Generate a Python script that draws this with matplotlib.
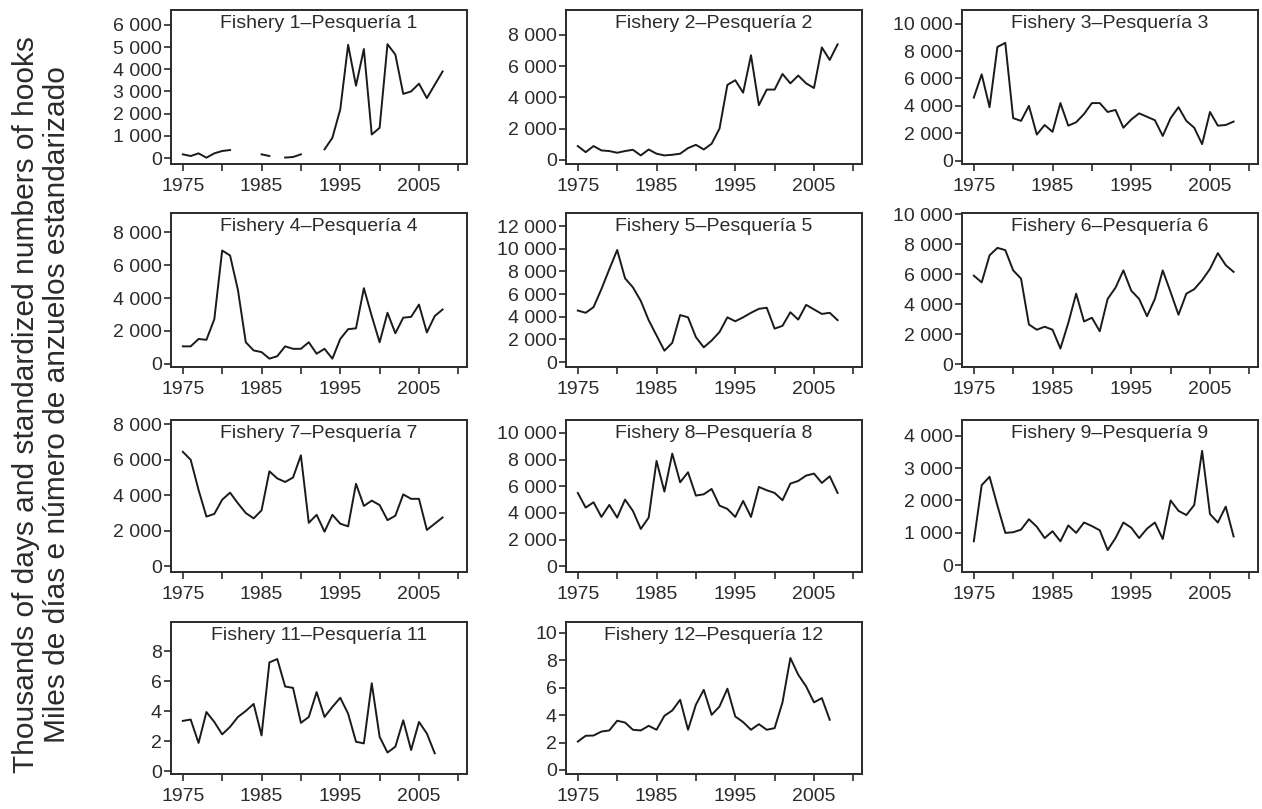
import numpy as np
import matplotlib
matplotlib.use("Agg")
import matplotlib.pyplot as plt
from matplotlib.ticker import FuncFormatter

plt.rcParams['font.family'] = ['Liberation Sans', 'DejaVu Sans']

nan = np.nan
years = np.arange(1975, 2009)
years_short = np.arange(1975, 2008)

# effort series (thousands of days / standardized hooks)
f1 = [165, 90, 210, 15, 210, 315, 360, nan, nan, nan, 165, 90, nan, 20, 45, 165,
      nan, nan, 390, 910, 2190, 5100, 3260, 4910, 1060, 1360, 5130, 4660, 2890,
      3000, 3350, 2700, 3300, 3900]
f2 = [880, 490, 880, 600, 560, 450, 560, 640, 280, 660, 390, 280, 320, 390, 750,
      960, 660, 1030, 2000, 4800, 5100, 4300, 6700, 3500, 4500, 4500, 5500, 4900,
      5400, 4900, 4600, 7200, 6400, 7400]
f3 = [4600, 6300, 3900, 8300, 8600, 3100, 2900, 4000, 1900, 2600, 2100, 4200, 2550,
      2800, 3400, 4200, 4200, 3550, 3700, 2400, 3000, 3450, 3200, 2950, 1800, 3100,
      3900, 2900, 2400, 1200, 3550, 2550, 2600, 2850]
f4 = [1050, 1050, 1500, 1450, 2700, 6900, 6600, 4500, 1300, 800, 700, 300, 450,
      1050, 900, 900, 1300, 600, 900, 300, 1500, 2100, 2150, 4600, 2900, 1300, 3100,
      1850, 2800, 2850, 3600, 1900, 2900, 3300]
f5 = [4550, 4350, 4850, 6450, 8200, 9900, 7400, 6600, 5400, 3700, 2350, 1000, 1700,
      4150, 3950, 2200, 1300, 1900, 2650, 3950, 3600, 3950, 4350, 4700, 4800, 2950,
      3200, 4400, 3750, 5050, 4650, 4250, 4350, 3700]
f6 = [5900, 5450, 7250, 7750, 7600, 6250, 5700, 2650, 2300, 2500, 2300, 1050, 2750,
      4700, 2850, 3100, 2200, 4350, 5100, 6250, 4900, 4350, 3200, 4350, 6250, 4800,
      3300, 4700, 5000, 5600, 6350, 7400, 6600, 6150]
f7 = [6450, 6000, 4300, 2800, 2950, 3750, 4150, 3550, 3000, 2700, 3150, 5350, 4950,
      4750, 5000, 6250, 2450, 2900, 1950, 2900, 2400, 2250, 4650, 3400, 3700, 3450,
      2600, 2850, 4050, 3800, 3800, 2050, 2400, 2750]
f8 = [5500, 4400, 4800, 3700, 4600, 3650, 5000, 4150, 2800, 3650, 7900, 5600, 8450,
      6300, 7050, 5300, 5400, 5800, 4550, 4300, 3700, 4900, 3700, 5950, 5700, 5500,
      4950, 6200, 6400, 6800, 6950, 6250, 6750, 5500]
f9 = [740, 2470, 2730, 1840, 1000, 1020, 1100, 1420, 1190, 840, 1050, 740, 1230,
      1000, 1320, 1210, 1080, 470, 840, 1320, 1160, 840, 1130, 1320, 810, 2000, 1680,
      1550, 1860, 3530, 1580, 1320, 1810, 890]
f11 = [3.37, 3.46, 1.9, 3.96, 3.3, 2.47, 2.97, 3.63, 4.03, 4.5, 2.4, 7.27, 7.49,
       5.66, 5.57, 3.24, 3.63, 5.29, 3.63, 4.3, 4.91, 3.85, 1.98, 1.87, 5.88, 2.31,
       1.26, 1.65, 3.41, 1.43, 3.3, 2.53, 1.21]
f12 = [2.07, 2.49, 2.51, 2.8, 2.88, 3.59, 3.46, 2.93, 2.88, 3.22, 2.93, 3.95, 4.34,
       5.12, 2.93, 4.76, 5.85, 4.02, 4.63, 5.93, 3.9, 3.49, 2.93, 3.34, 2.93, 3.05,
       4.93, 8.17, 6.95, 6.1, 4.93, 5.24, 3.66]

titles = ["Fishery 1\u2013Pesquer\u00eda 1", "Fishery 2\u2013Pesquer\u00eda 2",
          "Fishery 3\u2013Pesquer\u00eda 3", "Fishery 4\u2013Pesquer\u00eda 4",
          "Fishery 5\u2013Pesquer\u00eda 5", "Fishery 6\u2013Pesquer\u00eda 6",
          "Fishery 7\u2013Pesquer\u00eda 7", "Fishery 8\u2013Pesquer\u00eda 8",
          "Fishery 9\u2013Pesquer\u00eda 9", "Fishery 11\u2013Pesquer\u00eda 11",
          "Fishery 12\u2013Pesquer\u00eda 12"]
series = [f1, f2, f3, f4, f5, f6, f7, f8, f9, f11, f12]

# axis settings: (ymin, ymax, tick step, top tick)
yset = [(-270, 6670, 1000, 6000), (-270, 9600, 2000, 8000), (-250, 11000, 2000, 10000),
        (-210, 9190, 2000, 8000), (-440, 13170, 2000, 12000), (-180, 10070, 2000, 10000),
        (-320, 8240, 2000, 8000), (-430, 10970, 2000, 10000), (-206, 4480, 1000, 4000),
        (-0.17, 9.96, 2, 8), (-0.3, 10.8, 2, 10)]

W, H = 1262, 809
fig = plt.figure(figsize=(W / 100, H / 100), dpi=100)

col_left = [171, 566, 962]
row_top = [10, 213, 420, 622]
row_bot = [164, 367, 572, 774]
pw = 296

grey = '#2b2b2b'
for i, (vals, title, ys) in enumerate(zip(series, titles, yset)):
    r, c = divmod(i, 3)
    ax = fig.add_axes([col_left[c] / W, 1 - row_bot[r] / H, pw / W,
                       (row_bot[r] - row_top[r]) / H])
    x = years if len(vals) == len(years) else years_short
    ax.plot(x, vals, color='#1a1a1a', lw=1.4)
    ax.set_xlim(1973.5, 2011.1)
    ax.set_ylim(ys[0], ys[1])
    ax.set_xticks(np.arange(1975, 2011, 5))
    ax.set_xticklabels([str(y) if (y - 1975) % 10 == 0 else '' for y in range(1975, 2011, 5)])
    ax.set_yticks(np.arange(0, ys[3] + ys[2] / 2, ys[2]))
    if ys[2] >= 1000:
        ax.yaxis.set_major_formatter(FuncFormatter(lambda v, p: f"{int(v):,}".replace(",", " ")))
    ax.tick_params(direction='out', length=5, width=1.2, color=grey, labelcolor=grey,
                   labelsize=14)
    ax.tick_params(axis='y', pad=1.5)
    ax.tick_params(axis='x', pad=5)
    for s in ax.spines.values():
        s.set_color(grey)
        s.set_linewidth(1.4)
    ax.text(0.5, 0.965, title, transform=ax.transAxes, ha='center', va='top',
            fontsize=14, color=grey)

fig.text(0.033, 0.5, "Thousands of days and standardized numbers of hooks\n"
         "Miles de d\u00edas e n\u00famero de anzuelos estandarizado",
         rotation=90, ha='center', va='center', multialignment='center',
         fontsize=21.5, linespacing=1.12, color=grey)

fig.savefig("out.png", dpi=100, facecolor='white')
